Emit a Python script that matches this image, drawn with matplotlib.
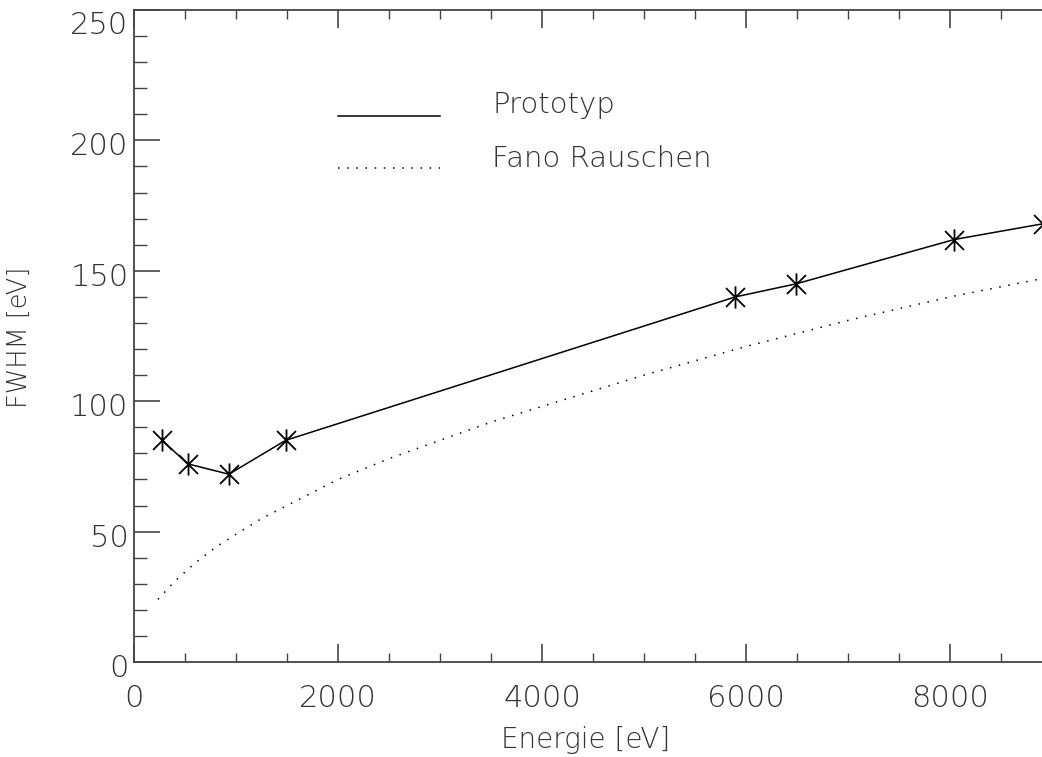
import matplotlib
matplotlib.use("Agg")
import matplotlib.pyplot as plt
from matplotlib.path import Path
from matplotlib.lines import Line2D
from matplotlib.ticker import MultipleLocator
import matplotlib.transforms as mtransforms

# Data
energy_proto = [277, 525, 930, 1487, 5895, 6490, 8040, 8905]
fwhm_proto = [85, 76, 72, 85, 140, 145, 162, 168]

energy_fano = [235, 400, 600, 800, 1000, 1250, 1500, 2000, 2500, 3000, 3500,
               4000, 5000, 6000, 7000, 8000, 8900]
fwhm_fano = [24, 31, 38, 44, 49, 55, 60, 70, 78, 85, 92, 98, 110, 121, 131, 140, 147]

x_label = "Energie [eV]"
y_label = "FWHM [eV]"
legend_labels = ["Prototyp", "Fano Rauschen"]

W, H = 1042, 757
fig = plt.figure(figsize=(W / 100, H / 100), dpi=100)
ax = fig.add_axes([134 / W, (H - 662) / H, (W - 134) / W, (662 - 10) / H])

txt_color = "#333333"
ax_color = "#444444"

# asterisk marker: vertical line plus two diagonals
ast = Path([(0, -1), (0, 1), (-0.85, -0.85), (0.85, 0.85), (-0.85, 0.85), (0.85, -0.85)],
           [Path.MOVETO, Path.LINETO, Path.MOVETO, Path.LINETO, Path.MOVETO, Path.LINETO])

ax.plot(energy_proto, fwhm_proto, color="black", lw=1.1, marker=ast,
        markersize=16, markeredgewidth=1.3, markeredgecolor="black")
ax.plot(energy_fano, fwhm_fano, color="black", lw=1.1, linestyle=(0, (1, 5)))

ax.set_xlim(0, 8900)
ax.set_ylim(0, 250)

ax.xaxis.set_major_locator(MultipleLocator(2000))
ax.xaxis.set_minor_locator(MultipleLocator(500))
ax.yaxis.set_major_locator(MultipleLocator(50))
ax.yaxis.set_minor_locator(MultipleLocator(10))

ax.tick_params(axis="x", which="major", direction="in", length=13, width=1.2,
               top=True, bottom=True, color=ax_color, labelsize=22,
               labelcolor=txt_color, pad=16)
ax.tick_params(axis="x", which="minor", direction="in", length=6.5, width=1.0,
               top=True, bottom=True, color=ax_color)
ax.tick_params(axis="y", which="major", direction="in", length=19, width=1.2,
               left=True, right=False, color=ax_color, labelsize=22,
               labelcolor=txt_color, pad=4)
ax.tick_params(axis="y", which="minor", direction="in", length=9, width=1.0,
               left=True, right=False, color=ax_color)

for s in ["left", "bottom", "top"]:
    ax.spines[s].set_color(ax_color)
    ax.spines[s].set_linewidth(1.3)
ax.spines["right"].set_visible(False)

fig.canvas.draw()
for lab in ax.get_xticklabels() + ax.get_yticklabels():
    lab.set_fontweight("light")
shift = mtransforms.ScaledTranslation(0, -3.5 / 100, fig.dpi_scale_trans)
for lab in ax.get_yticklabels():
    lab.set_transform(lab.get_transform() + shift)
for lab in ax.get_yticklabels():
    if lab.get_text() == "250":
        lab.set_va("top")
        lab.set_transform(lab.get_transform() + mtransforms.ScaledTranslation(0, 2 / 100, fig.dpi_scale_trans))

fig.text(19 / W, 1 - 337 / H, y_label, rotation=90, ha="center", va="center",
         fontsize=18.5, color=txt_color, fontweight="light")
fig.text(586 / W, 1 - 740 / H, x_label, ha="center", va="center",
         fontsize=20, color=txt_color, fontweight="light")

# legend drawn manually
fig.add_artist(Line2D([338 / W, 440 / W], [1 - 116 / H, 1 - 116 / H],
                      color="black", lw=1.1))
fig.add_artist(Line2D([338 / W, 440 / W], [1 - 168 / H, 1 - 168 / H],
                      color="black", lw=1.1, linestyle=(0, (1, 5))))
fig.text(492 / W, 1 - 105 / H, legend_labels[0], ha="left", va="center",
         fontsize=21, color=txt_color, fontweight="light")
fig.text(492 / W, 1 - 159 / H, legend_labels[1], ha="left", va="center",
         fontsize=21, color=txt_color, fontweight="light")

fig.savefig("out.png", dpi=100)
